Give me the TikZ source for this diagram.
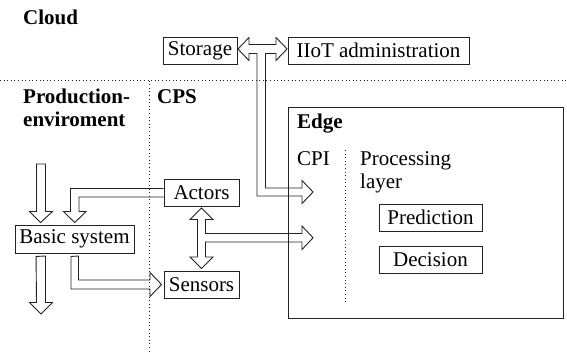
\documentclass[tikz,border=0pt]{standalone}
\usepackage{fontspec}
\setmainfont{Liberation Serif}
\newfontfamily\tnr{Liberation Serif}
\usetikzlibrary{calc}
\definecolor{lc}{HTML}{222222}
\begin{document}
\begin{tikzpicture}[x=1pt,y=-1pt,
  every node/.style={font=\tnr\fontsize{21}{23.5}\selectfont, inner sep=0pt, text=black},
  box/.style={draw=lc, line width=0.9pt, minimum height=27pt},
  barrow/.style={draw=lc, line width=0.9pt, line join=miter},
  sep/.style={draw=lc, line width=0.9pt, dash pattern=on 1pt off 2.6pt},
  lbl/.style={anchor=base west},
  ttl/.style={anchor=base west, font=\tnr\fontsize{21}{23.5}\selectfont\bfseries}]
\useasboundingbox (0,0) rectangle (567,354);

% separators
\draw[sep] (0,80.5) -- (567,80.5);
\draw[sep] (149,80.5) -- (149,354);
\draw[sep] (345.7,150) -- (345.7,302);

% boxes
\node[box, minimum width=74pt] (storage) at (200,50.5) {Storage};
\node[box, minimum width=181pt] (iiot) at (378.5,50.5) {IIoT administration};
\node[box, minimum width=75pt] (actors) at (201.5,192.5) {Actors};
\node[box, minimum width=75pt] (sensors) at (201.5,284.5) {Sensors};
\node[box, minimum width=119pt, minimum height=28pt] (basic) at (74.5,239) {Basic system};
\node[box, minimum width=275pt, minimum height=211pt] (edge) at (425.5,212.5) {};
\node[box, minimum width=103pt] (pred) at (430.5,217.5) {Prediction};
\node[box, minimum width=103pt] (dec) at (430.5,259.5) {Decision};

% labels
\node[ttl] (cloud) at (23,24) {Cloud};
\node[ttl] (prod) at (23,103) {\begin{tabular}[t]{@{}l@{}}Production-\\enviroment\end{tabular}};
\node[ttl] (cps) at (157,103) {CPS};
\node[ttl] (edgelbl) at (297,128.5) {Edge};
\node[lbl] (cpi) at (297,165) {CPI};
\node[lbl] (proc) at (360,165) {\begin{tabular}[t]{@{}l@{}}Processing\\layer\end{tabular}};

% Storage <-> IIoT, with branch to Edge
\draw[barrow] ($(storage.east)+(0.5,-1.5)$) -- (249,37.5) -- (249,44.5) -- (276,44.5) -- (276,37.5)
  -- ($(iiot.west)+(-0.5,-1.5)$) -- (276,60.5) -- (276,53.5) -- (265.5,53.5) -- (265.5,188)
  -- (302,188) -- (302,180.5) -- ($(edge.west)+(25.5,-20.5)$) -- (302,203.5) -- (302,196)
  -- (257,196) -- (257,53.5) -- (249,53.5) -- (249,60.5) -- cycle;

% Actors <-> Sensors, with branch to Edge
\draw[barrow] ($(actors.south)+(0,1.5)$) -- (213,219.5) -- (205.5,219.5) -- (205.5,233.5)
  -- (302,233.5) -- (302,226) -- ($(edge.west)+(25.5,25.25)$) -- (302,249.5) -- (302,242)
  -- (205.5,242) -- (205.5,257) -- (213,257) -- ($(sensors.north)+(0,-2)$) -- (190,257)
  -- (197.5,257) -- (197.5,219.5) -- (190,219.5) -- cycle;

% Actors -> Basic system
\draw[barrow] ($(actors.west)+(0,-4)$) -- (70.5,188.5) -- (70.5,211.5) -- (63.5,211.5)
  -- ($(basic.north)+(0.25,-2)$) -- (86,211.5) -- (79,211.5) -- (79,197) -- ($(actors.west)+(0,4.5)$);

% input to Basic system
\draw[barrow] (36.5,164) -- (45.5,164) -- (45.5,211.5) -- (52.5,211.5)
  -- ($(basic.north west)+(26,-2)$) -- (29.5,211.5) -- (36.5,211.5) -- cycle;

% output from Basic system
\draw[barrow] ($(basic.south west)+(21.5,3)$) -- (45.5,256) -- (45.5,302.5) -- (52.5,302.5)
  -- (41,314) -- (29.5,302.5) -- (36.5,302.5) -- cycle;

% Basic system -> Sensors
\draw[barrow] ($(basic.south)+(-3.5,3)$) -- (78.5,256) -- (78.5,280) -- (150,280) -- (150,272.5)
  -- ($(sensors.west)+(-2,0)$) -- (150,296.5) -- (150,289) -- (71,289) -- cycle;
\end{tikzpicture}
\end{document}
